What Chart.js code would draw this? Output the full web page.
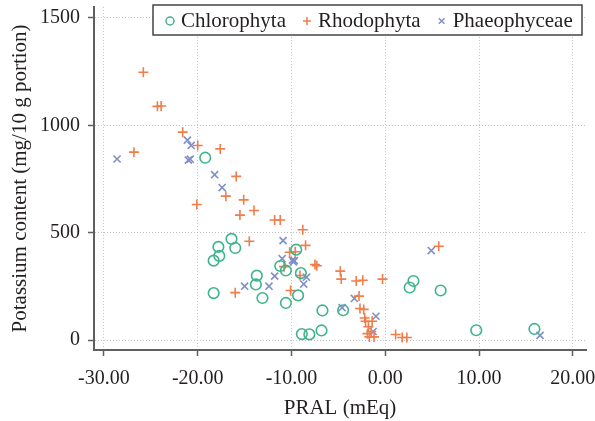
<!DOCTYPE html>
<html>
<head>
<meta charset="utf-8">
<script src="https://cdn.jsdelivr.net/npm/chart.js@4.4.1/dist/chart.umd.min.js"></script>
<style>
  html, body { margin: 0; padding: 0; background: #fff; }
  #chart { display: block; }
</style>
</head>
<body>
<canvas id="chart" width="595" height="421"></canvas>
<script>
// data: [PRAL (mEq), potassium (mg / 10 g portion)]
const chlorophyta = [
  [-19.2, 849], [-16.4, 471], [-16.0, 429], [-17.8, 434], [-17.7, 392],
  [-18.3, 370], [-18.3, 219], [-13.7, 300], [-13.8, 259], [-13.1, 196],
  [-11.2, 345], [-10.6, 324], [-9.5, 421], [-10.6, 173], [-9.0, 312],
  [-9.3, 208], [-6.7, 138], [-8.9, 28], [-8.1, 27], [-6.8, 45],
  [-4.5, 139], [3.0, 275], [2.6, 245], [5.9, 231], [9.7, 46], [15.9, 52]
];
const rhodophyta = [
  [-25.8, 1247], [-24.3, 1088], [-23.9, 1090], [-21.6, 968], [-20.0, 906],
  [-26.8, 875], [-17.6, 890], [-15.9, 762], [-17.0, 670], [-15.1, 653],
  [-20.1, 631], [-14.0, 603], [-15.5, 582], [-11.8, 559], [-11.2, 559],
  [-8.8, 514], [-14.5, 460], [-8.5, 441], [-10.2, 409], [-9.6, 411],
  [-7.5, 352], [-7.3, 346], [-10.8, 342], [-9.1, 301], [-10.1, 231],
  [-16.0, 221], [-4.8, 321], [-4.7, 284], [-3.1, 275], [-2.4, 279],
  [-0.3, 284], [-2.8, 205], [5.7, 437], [1.1, 26], [1.8, 12], [2.3, 12],
  [-2.7, 147], [-2.3, 143], [-2.2, 103], [-2.1, 88], [-1.4, 88],
  [-1.8, 62], [-1.5, 40], [-1.9, 30], [-1.7, 15], [-1.2, 15]
];
const phaeophyceae = [
  [-28.6, 843], [-21.1, 931], [-20.7, 906], [-21.0, 838], [-20.8, 842],
  [-18.2, 770], [-17.4, 710], [-10.9, 463], [-11.0, 379], [-9.9, 372],
  [-9.8, 364], [-9.7, 370], [-11.8, 298], [-12.4, 251], [-15.0, 251],
  [-8.4, 293], [-8.7, 261], [-3.3, 194], [-4.6, 151], [-1.0, 111],
  [-1.3, 40], [4.9, 417], [16.5, 22]
];
const seriesNames = ['Chlorophyta', 'Rhodophyta', 'Phaeophyceae'];
const xTicks = [-30, -20, -10, 0, 10, 20];
const yTicks = [0, 500, 1000, 1500];

const FONT = '"Liberation Serif", "DejaVu Serif", serif';
const TEXT = '#231f20';
const AXIS = '#5f5f5f';
const colors = ['#3fb48c', '#f07d4a', '#7f8fc9'];
const styles = ['circle', 'cross', 'crossRot'];

function toPoints(arr) {
  return arr.map(p => ({ x: p[0], y: p[1] }));
}

function makeSet(i, arr) {
  return {
    label: seriesNames[i],
    data: toPoints(arr),
    pointStyle: styles[i],
    pointRadius: i === 0 ? 5.3 : 5,
    pointBorderWidth: 1.6,
    borderColor: colors[i],
    backgroundColor: 'rgba(0,0,0,0)',
    pointBackgroundColor: 'rgba(0,0,0,0)'
  };
}

// legend box drawn inside the plot, top right
const boxLegend = {
  id: 'boxLegend',
  afterDraw(chart) {
    const ctx = chart.ctx;
    const x0 = 153, y0 = 5, x1 = 582, y1 = 35;
    const cy = (y0 + y1) / 2;
    ctx.save();
    ctx.fillStyle = '#fff';
    ctx.fillRect(x0, y0, x1 - x0, y1 - y0);
    ctx.strokeStyle = '#444';
    ctx.lineWidth = 1.5;
    ctx.strokeRect(x0, y0, x1 - x0, y1 - y0);
    ctx.font = '21px ' + FONT;
    ctx.textBaseline = 'middle';
    let x = x0 + 17;
    seriesNames.forEach((name, i) => {
      ctx.strokeStyle = colors[i];
      ctx.lineWidth = 1.5;
      Chart.helpers.drawPoint(ctx, { pointStyle: styles[i], radius: 4, borderWidth: 1.5 }, x, cy + 1);
      ctx.fillStyle = TEXT;
      ctx.fillText(name, x + 11, cy + 1);
      x += 11 + ctx.measureText(name).width + 21;
    });
    ctx.restore();
  }
};

const whiteBg = {
  id: 'whiteBg',
  beforeDraw(chart) {
    const ctx = chart.ctx;
    ctx.save();
    ctx.fillStyle = '#fff';
    ctx.fillRect(0, 0, chart.width, chart.height);
    ctx.restore();
  }
};

new Chart(document.getElementById('chart'), {
  type: 'scatter',
  data: {
    datasets: [
      makeSet(0, chlorophyta),
      makeSet(1, rhodophyta),
      makeSet(2, phaeophyceae)
    ]
  },
  options: {
    responsive: false,
    animation: false,
    devicePixelRatio: 1,
    layout: { padding: { left: 0, right: 9, top: 5, bottom: 0 } },
    plugins: {
      legend: { display: false },
      tooltip: { enabled: false }
    },
    scales: {
      x: {
        type: 'linear',
        min: -31.06,
        max: 21.4,
        afterBuildTicks: s => { s.ticks = xTicks.map(v => ({ value: v })); },
        afterFit: s => { s.height = 71; s.paddingLeft = 0; s.paddingRight = 0; },
        ticks: {
          autoSkip: false,
          maxRotation: 0,
          padding: 11,
          color: TEXT,
          font: { family: FONT, size: 20 },
          callback: v => v.toFixed(2)
        },
        grid: { color: '#c2c2c2', lineWidth: 1, tickLength: 6, tickColor: AXIS, tickWidth: 1.5 },
        border: { display: true, color: AXIS, width: 2, dash: [1, 2] },
        title: {
          display: true,
          text: 'PRAL (mEq)',
          color: TEXT,
          font: { family: FONT, size: 21 },
          padding: { top: 0, bottom: 0 }
        }
      },
      y: {
        type: 'linear',
        min: -46,
        max: 1551,
        afterBuildTicks: s => { s.ticks = yTicks.map(v => ({ value: v })); },
        afterFit: s => { s.width = 94; s.paddingTop = 0; s.paddingBottom = 0; },
        ticks: {
          autoSkip: false,
          padding: 8,
          color: TEXT,
          font: { family: FONT, size: 20 },
          callback: v => String(v)
        },
        grid: { color: '#c2c2c2', lineWidth: 1, tickLength: 6, tickColor: AXIS, tickWidth: 1.5 },
        border: { display: true, color: AXIS, width: 2, dash: [1, 2] },
        title: {
          display: true,
          text: 'Potassium content (mg/10 g portion)',
          color: TEXT,
          font: { family: FONT, size: 21 },
          padding: { top: 8, bottom: 0 }
        }
      }
    }
  },
  plugins: [whiteBg, boxLegend]
});
</script>
</body>
</html>
